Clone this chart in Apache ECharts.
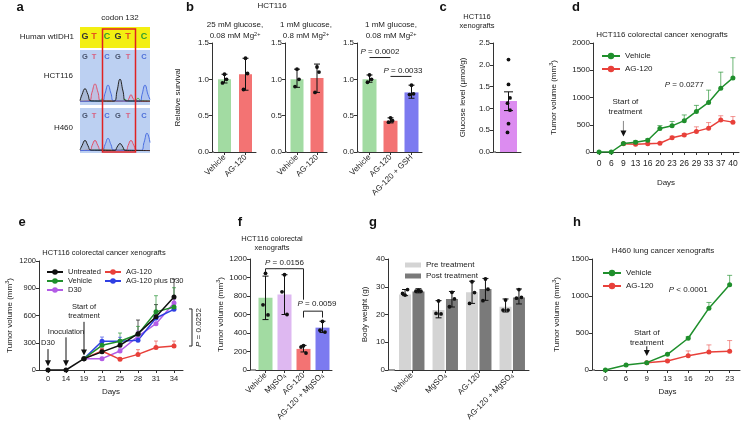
<!DOCTYPE html>
<html><head><meta charset="utf-8">
<script src="https://cdn.jsdelivr.net/npm/echarts@6/dist/echarts.min.js"></script>
<style>html,body{margin:0;padding:0;background:#fff}#c{width:744px;height:426px}</style>
</head><body><div id="c"></div>
<script>
// ================= DATA =================
// panel a: sequencing traces (x 0..70 across the read, y relative peak height)
const aSeq = ['G','T','C','G','T','C'];
const aHctBlack = [[0,0.05],[2,0.3],[5,0.55],[8,0.3],[11,0.04],[34,0.03],[37,0.45],[40,0.95],[43,0.45],[46,0.04],[70,0.03]];
const aHctRed   = [[0,0.02],[9,0.04],[12,0.4],[15,0.75],[18,0.4],[21,0.04],[47,0.03],[49,0.15],[51,0.3],[53,0.15],[56,0.03],[70,0.02]];
const aHctBlue  = [[0,0.02],[22,0.04],[25,0.35],[28,0.7],[31,0.35],[34,0.04],[60,0.03],[62,0.3],[65,0.7],[68,0.3],[70,0.1]];
const aHctGreen = [[0,0.02],[19,0.03],[22,0.12],[25,0.03],[42,0.03],[45,0.1],[48,0.03],[55,0.05],[58,0.15],[61,0.05],[70,0.03]];
const aH460Black = [[0,0.05],[2,0.25],[5,0.5],[8,0.25],[11,0.04],[35,0.03],[37,0.18],[40,0.35],[43,0.18],[45,0.03],[70,0.02]];
const aH460Red   = [[0,0.02],[10,0.04],[12,0.25],[15,0.5],[18,0.25],[21,0.04],[46,0.03],[48,0.25],[51,0.5],[54,0.25],[57,0.03],[70,0.02]];
const aH460Blue  = [[0,0.02],[22,0.04],[25,0.3],[28,0.6],[31,0.3],[34,0.04],[61,0.03],[64,0.4],[67,0.85],[70,0.4]];
const aH460Green = [[0,0.02],[20,0.05],[23,0.1],[26,0.04],[40,0.03],[43,0.08],[46,0.03],[70,0.02]];

// panel b
const b1Cats = ['Vehicle','AG-120'];
const b1Mean = [1.0, 1.07];
const b1Low  = [0.95, 0.85];
const b1High = [1.07, 1.29];
const b1Pts  = [[1.07,1.0,0.95],[1.29,1.08,0.86]];
const b2Cats = ['Vehicle','AG-120'];
const b2Mean = [1.0, 1.02];
const b2Low  = [0.89, 0.82];
const b2High = [1.14, 1.21];
const b2Pts  = [[1.14,1.0,0.9],[1.17,1.1,0.82]];
const b3Cats = ['Vehicle','AG-120','AG-120 + GSH'];
const b3Mean = [1.0, 0.43, 0.82];
const b3Low  = [0.96, 0.40, 0.74];
const b3High = [1.06, 0.47, 0.92];
const b3Pts  = [[1.06,1.0,0.96],[0.47,0.43,0.41],[0.92,0.80,0.79]];

// panel c
const cCats = [''];
const cMean = [1.17];
const cLow  = [0.95];
const cHigh = [1.38];
const cPts  = [[2.12,1.55,1.24,1.12,0.96,0.65,0.45]];

// panel d
const dDays = ['0','6','9','13','16','20','23','26','29','33','37','40'];
const dVehicle    = [0,0,155,180,215,430,480,575,745,910,1170,1360];
const dVehicleTop = [null,null,170,205,240,485,560,680,855,1135,1465,1730];
const dAG         = [null,null,150,140,152,160,260,310,378,438,585,548];
const dAGTop      = [null,null,160,155,165,175,290,340,462,540,665,650];

// panel e
const eDays = ['0','14','19','21','25','28','31','34'];
const eUntreated    = [0,0,125,200,272,400,585,805];
const eUntreatedTop = [null,null,null,230,300,550,720,1000];
const eVehicle      = [null,null,125,272,316,393,640,694];
const eVehicleTop   = [null,null,null,300,407,480,818,906];
const eD30          = [null,null,125,125,209,371,510,738];
const eD30Top       = [null,null,null,140,240,430,560,775];
const eAG           = [null,null,125,209,117,172,247,264];
const eAGTop        = [null,null,null,240,135,224,319,319];
const eAGD30        = [null,null,125,316,316,327,572,668];
const eAGD30Top     = [null,null,null,363,360,400,640,720];

// panel f
const fCats = ['Vehicle','MgSO4','AG-120','AG-120 + MgSO4'];
const fMean = [780, 815, 228, 458];
const fLow  = [545, 600, 195, 405];
const fHigh = [1015, 1030, 266, 527];
const fPts  = [[1045,705,595],[1030,845,600],[262,248,183],[525,430,410]];

// panel g
const gCats = ['Vehicle','MgSO4','AG-120','AG-120 + MgSO4'];
const gPre      = [27.2, 21.6, 28.0, 22.8];
const gPreLow   = [26.8, 18.8, 24.0, 20.9];
const gPreHigh  = [29.0, 25.0, 32.0, 25.6];
const gPrePts   = [[27.0,29.0,27.6],[24.9,20.2,20.4],[31.8,27.9,24.0],[25.2,21.6,21.6]];
const gPost     = [28.3, 25.6, 29.2, 26.1];
const gPostLow  = [27.8, 22.7, 25.1, 23.8];
const gPostHigh = [29.3, 28.3, 33.0, 29.2];
const gPostPts  = [[28.7,28.4,28.4],[28.0,25.6,22.8],[32.8,29.1,25.0],[29.0,26.2,25.9]];

// panel h
const hDays = ['0','6','9','13','16','20','23'];
const hVehicle    = [0,68,99,212,429,836,1152];
const hVehicleTop = [null,null,null,225,450,913,1279];
const hAG         = [null,null,99,122,194,244,253];
const hAGTop      = [null,null,null,135,258,339,398];

// ================= STYLE =================
const F = "'Liberation Sans', Arial, Helvetica, sans-serif";
const INK = '#222';
const FS = 8;
const GREEN_BAR='#a2dba2', RED_BAR='#f37373', BLUE_BAR='#7c7af0', VIOLET_BAR='#dc8cf0', LILAC_BAR='#deb8f1';
const PRE='#d4d4d4', POST='#7a7a7a';
const G_LINE='#1f8f2c', R_LINE='#e8403a', K_LINE='#111111', P_LINE='#b35ce6', B_LINE='#2f3fe3';
const RICH = {
  i:{fontStyle:'italic', fontSize:FS, fontFamily:F, color:INK},
  sup:{fontSize:5.5, fontFamily:F, color:INK, verticalAlign:'top', padding:[0,0,5,0]},
  sub:{fontSize:5.5, fontFamily:F, color:INK, verticalAlign:'bottom', padding:[4,0,0,0]}
};

const grids = [
  {left:80, top:78, width:70, height:25},    // 0 a1
  {left:80, top:130, width:70, height:22},   // 1 a2
  {left:214, top:43, width:42, height:109},  // 2 b1
  {left:287, top:43, width:40, height:109},  // 3 b2
  {left:359, top:43, width:63, height:109},  // 4 b3
  {left:496, top:43, width:25, height:109},  // 5 c
  {left:593, top:43, width:146, height:109}, // 6 d
  {left:39, top:261, width:144, height:109}, // 7 e
  {left:256, top:259, width:76, height:111}, // 8 f
  {left:395, top:259, width:134, height:111},// 9 g
  {left:595, top:259, width:145, height:111} // 10 h
];
const yOff = [0,0,2,2,2,3,0,0,6,7,3];

const axLine = {show:true, lineStyle:{color:'#333', width:1}};
const axTick = {show:true, length:3, lineStyle:{color:'#333', width:1}};
const plain = v => String(v);

function yAx(g, min, max, interval, name, gap, fmt, fs) {
  return {type:'value', gridIndex:g, min, max, interval, offset:yOff[g],
    axisLine:axLine, axisTick:axTick, splitLine:{show:false},
    axisLabel:{fontSize:fs||FS, color:INK, margin:3, fontFamily:F, formatter:fmt||plain},
    name:name||'', nameLocation:'middle', nameGap:gap||0, nameRotate:90,
    nameTextStyle:{fontSize:FS, color:INK, fontFamily:F, rich:RICH}};
}
const mapLbl = v => v.replace('MgSO4','MgSO{sub|4}');
function xCat(g, data, o) {
  o = o || {};
  return {type:'category', gridIndex:g, data, boundaryGap:true,
    axisLine:axLine, axisTick:{show:true, alignWithLabel:true, length:3, lineStyle:{color:'#333'}},
    axisLabel:{fontSize:o.fs||FS, color:INK, margin:o.margin||4, rotate:o.rotate||0, interval:0, fontFamily:F,
      formatter: v => mapLbl(v), rich:RICH},
    name:o.name||'', nameLocation:'middle', nameGap:o.gap||0,
    nameTextStyle:{fontSize:FS, color:INK, fontFamily:F}};
}
function hidAx(g, min, max) { return {type:'value', gridIndex:g, min, max, show:false}; }

function trace(g, data, color) {
  return {type:'line', xAxisIndex:g, yAxisIndex:g, data, smooth:0.5, symbol:'none', silent:true,
    lineStyle:{color, width:1}, areaStyle:{color, opacity:0.12}, z:3};
}
function bars(g, vals, colors, bw, extra) {
  return Object.assign({type:'bar', xAxisIndex:g, yAxisIndex:g, barWidth:bw, silent:true, z:2,
    data: vals.map((v,i)=>({value:v, itemStyle:{color:colors[i]}}))}, extra||{});
}
function errBars(g, low, high, cap, dx) {
  return {type:'custom', xAxisIndex:g, yAxisIndex:g, silent:true, z:6,
    data: low.map((l,i)=>[i,l,high[i]]),
    renderItem(p, api) {
      const a = api.coord([api.value(0), api.value(1)]);
      const b = api.coord([api.value(0), api.value(2)]);
      const x = a[0] + (dx||0), w = cap/2;
      const st = {stroke:'#111', lineWidth:1};
      return {type:'group', children:[
        {type:'line', shape:{x1:x,y1:a[1],x2:x,y2:b[1]}, style:st},
        {type:'line', shape:{x1:x-w,y1:b[1],x2:x+w,y2:b[1]}, style:st},
        {type:'line', shape:{x1:x-w,y1:a[1],x2:x+w,y2:a[1]}, style:st}]};
    }};
}
function dots(g, pts, jit, dx) {
  const data = [];
  pts.forEach((arr,i)=>arr.forEach((v,j)=>data.push([i,v,j])));
  return {type:'custom', xAxisIndex:g, yAxisIndex:g, silent:true, z:7, data,
    renderItem(p, api) {
      const c = api.coord([api.value(0), api.value(1)]);
      const j = api.value(2);
      return {type:'circle', shape:{cx:c[0]+(dx||0)+jit[j%jit.length], cy:c[1], r:1.9}, style:{fill:'#111'}};
    }};
}
function line(name, g, data, color, z) {
  return {type:'line', name, xAxisIndex:g, yAxisIndex:g, data:data.map(v=>v==null?'-':v),
    symbol:'circle', symbolSize:5, lineStyle:{width:1.5, color}, itemStyle:{color}, z:z||3, silent:true};
}
function upErr(g, mean, top, color, cap) {
  const data = [];
  mean.forEach((m,i)=>{ if (m!=null && top[i]!=null && top[i]>m) data.push([i,m,top[i]]); });
  return {type:'custom', xAxisIndex:g, yAxisIndex:g, silent:true, z:2, data,
    renderItem(p, api) {
      const a = api.coord([api.value(0), api.value(1)]);
      const b = api.coord([api.value(0), api.value(2)]);
      const st = {stroke:color, lineWidth:1};
      return {type:'group', children:[
        {type:'line', shape:{x1:a[0],y1:a[1],x2:b[0],y2:b[1]}, style:st},
        {type:'line', shape:{x1:b[0]-cap/2,y1:b[1],x2:b[0]+cap/2,y2:b[1]}, style:st}]};
    }};
}

const f1 = v => v.toFixed(1);
const legTxt = {fontSize:FS, fontFamily:F, color:INK};

const option = {
  animation:false,
  backgroundColor:'#fff',
  grid: grids.map(g=>Object.assign({containLabel:false}, g)),
  xAxis: [
    hidAx(0,0,70), hidAx(1,0,70),
    xCat(2,b1Cats,{rotate:45}), xCat(3,b2Cats,{rotate:45}), xCat(4,b3Cats,{rotate:45}),
    Object.assign(xCat(5,cCats), {axisTick:{show:false}}),
    xCat(6,dDays,{name:'Days', gap:27, fs:8.5, margin:7}),
    xCat(7,eDays,{name:'Days', gap:18, fs:7.5, margin:5}),
    xCat(8,fCats,{rotate:45}),
    xCat(9,gCats,{rotate:45}),
    xCat(10,hDays,{name:'Days', gap:18, fs:8, margin:5})
  ],
  yAxis: [
    hidAx(0,-0.05,1), hidAx(1,-0.05,1),
    yAx(2,0,1.5,0.5,'Relative survival',30,f1),
    yAx(3,0,1.5,0.5,'',0,f1),
    yAx(4,0,1.5,0.5,'',0,f1),
    yAx(5,0,2.5,0.5,'Glucose level (μmol/g)',26,f1),
    yAx(6,0,2000,500,'Tumor volume (mm{sup|3})',34),
    yAx(7,0,1200,300,'Tumor volume (mm{sup|3})',24,null,7.5),
    yAx(8,0,1200,200,'Tumor volume (mm{sup|3})',24),
    yAx(9,0,40,10,'Body weight (g)',19),
    yAx(10,0,1500,500,'Tumor volume (mm{sup|3})',30)
  ],
  legend: [
    {left:596, top:47, orient:'vertical', itemGap:5, itemWidth:18, itemHeight:8, selectedMode:false, data:['Vehicle','AG-120'], textStyle:legTxt},
    {left:41, top:263, orient:'vertical', itemGap:1, itemWidth:16, itemHeight:7, selectedMode:false, data:['Untreated','Vehicle','D30'], textStyle:Object.assign({}, legTxt, {fontSize:7.5})},
    {left:99, top:263, orient:'vertical', itemGap:1, itemWidth:16, itemHeight:7, selectedMode:false, data:['AG-120','AG-120 plus D30'], textStyle:Object.assign({}, legTxt, {fontSize:7.5})},
    {left:400, top:256, orient:'vertical', itemGap:3, itemWidth:16, itemHeight:5, icon:'rect', selectedMode:false, data:['Pre treatment','Post treatment'], textStyle:legTxt},
    {left:597, top:264, orient:'vertical', itemGap:5, itemWidth:18, itemHeight:8, selectedMode:false, data:['Vehicle','AG-120'], textStyle:legTxt}
  ],
  series: [
    // a
    trace(0,aHctGreen,'#4caf50'), trace(0,aHctRed,'#e0506a'), trace(0,aHctBlue,'#4a6ee0'), trace(0,aHctBlack,'#222'),
    trace(1,aH460Green,'#4caf50'), trace(1,aH460Red,'#e0506a'), trace(1,aH460Blue,'#4a6ee0'), trace(1,aH460Black,'#222'),
    // b
    bars(2,b1Mean,[GREEN_BAR,RED_BAR],13), errBars(2,b1Low,b1High,6), dots(2,b1Pts,[0,2,-2]),
    bars(3,b2Mean,[GREEN_BAR,RED_BAR],13), errBars(3,b2Low,b2High,6), dots(3,b2Pts,[0,2,-2]),
    bars(4,b3Mean,[GREEN_BAR,RED_BAR,BLUE_BAR],14), errBars(4,b3Low,b3High,6), dots(4,b3Pts,[0,2,-2]),
    // c
    bars(5,cMean,[VIOLET_BAR],17), errBars(5,cLow,cHigh,9), dots(5,cPts,[0,0,1.5,-1,1.5,0,-1]),
    // d
    upErr(6,dVehicle,dVehicleTop,'rgba(31,143,44,0.65)',5), upErr(6,dAG,dAGTop,'rgba(232,64,58,0.55)',5),
    line('AG-120',6,dAG,R_LINE,3), line('Vehicle',6,dVehicle,G_LINE,4),
    // e
    upErr(7,eUntreated,eUntreatedTop,'rgba(17,17,17,0.7)',4), upErr(7,eVehicle,eVehicleTop,'rgba(31,143,44,0.65)',4),
    upErr(7,eD30,eD30Top,'rgba(179,92,230,0.65)',4), upErr(7,eAG,eAGTop,'rgba(232,64,58,0.6)',4),
    upErr(7,eAGD30,eAGD30Top,'rgba(47,63,227,0.6)',4),
    line('D30',7,eD30,P_LINE,3), line('AG-120 plus D30',7,eAGD30,B_LINE,3), line('AG-120',7,eAG,R_LINE,3),
    line('Vehicle',7,eVehicle,G_LINE,4), line('Untreated',7,eUntreated,K_LINE,5),
    // f
    bars(8,fMean,[GREEN_BAR,LILAC_BAR,RED_BAR,BLUE_BAR],14), errBars(8,fLow,fHigh,6), dots(8,fPts,[0,-2.5,2.5]),
    // g
    {type:'bar', name:'Pre treatment', xAxisIndex:9, yAxisIndex:9, barWidth:12, barGap:'12%', data:gPre, itemStyle:{color:PRE}, silent:true},
    {type:'bar', name:'Post treatment', xAxisIndex:9, yAxisIndex:9, barWidth:12, barGap:'12%', data:gPost, itemStyle:{color:POST}, silent:true},
    errBars(9,gPreLow,gPreHigh,6,-6.7), dots(9,gPrePts,[0,2.5,-2.5],-6.7),
    errBars(9,gPostLow,gPostHigh,6,6.7), dots(9,gPostPts,[0,2.5,-2.5],6.7),
    // h
    upErr(10,hVehicle,hVehicleTop,'rgba(31,143,44,0.65)',5), upErr(10,hAG,hAGTop,'rgba(232,64,58,0.55)',5),
    line('AG-120',10,hAG,R_LINE,3), line('Vehicle',10,hVehicle,G_LINE,4)
  ]
};

const chart = echarts.init(document.getElementById('c'), null, {renderer:'canvas'});
chart.setOption(option);

function build() {
  const P = (g, x, y) => chart.convertToPixel({gridIndex:g}, [x, y]);
  const els = [];
  const txt = (x, y, text, o) => { o = o || {}; els.push({type:'text', x, y, z:20, silent:true, rotation:o.rot||0,
    style:{text, fill:o.color||INK, fontSize:o.size||FS, fontFamily:F, fontWeight:o.weight||'normal',
      align:o.align||'center', verticalAlign:o.va||'middle', rich:RICH, lineHeight:o.lh||10}}); };
  const ln = (x1,y1,x2,y2,color,w) => els.push({type:'line', z:20, silent:true, shape:{x1,y1,x2,y2}, style:{stroke:color||'#222', lineWidth:w||1}});
  const rect = (x,y,w,h,fill,stroke,z) => els.push({type:'rect', z:z==null?-1:z, silent:true, shape:{x,y,width:w,height:h}, style:{fill:fill||'none', stroke:stroke||null, lineWidth:1.5}});
  const arrow = (x, y1, y2, shaft, hw, hh) => {
    ln(x, y1, x, y2-hh+1, shaft, 1);
    els.push({type:'polygon', z:20, silent:true, shape:{points:[[x-hw,y2-hh],[x+hw,y2-hh],[x,y2]]}, style:{fill:'#111'}});
  };
  // panel letters
  [['a',20,7],['b',190,7],['c',443,7],['d',576,7],['e',22,222],['f',240,222],['g',373,222],['h',577,222]]
    .forEach(([t,x,y])=>txt(x,y,t,{size:13,weight:'bold',color:'#111'}));

  // ---- a ----
  txt(120,18,'codon 132');
  txt(74,37,'Human wtIDH1',{align:'right'});
  txt(73,76,'HCT116',{align:'right'});
  txt(73,128,'H460',{align:'right'});
  rect(80,27,70,21,'#f3ef12');
  rect(80,50,70,55,'#bcd0f2');
  rect(80,108,70,45,'#bcd0f2');
  const seqX = [85,94,107,118,128,144];
  const yCol = {G:'#333', T:'#e3541e', C:'#2e9d2e'};
  const bCol = {G:'#4a5570', T:'#d8607f', C:'#4d6fd8'};
  aSeq.forEach((s,i)=>{
    txt(seqX[i],37,s,{size:9,weight:'bold',color:yCol[s]});
    txt(seqX[i],57,s,{size:7.5,weight:'bold',color:bCol[s]});
    txt(seqX[i],116,s,{size:7.5,weight:'bold',color:bCol[s]});
  });
  rect(102.5,29,33,123,'none','#e02222',20);

  // ---- b ----
  txt(272,6,'HCT116');
  txt(235,25,'25 mM glucose,'); txt(235,36,'0.08 mM Mg{sup|2+}');
  txt(306,25,'1 mM glucose,');  txt(306,36,'0.8 mM Mg{sup|2+}');
  txt(391,25,'1 mM glucose,');  txt(391,36,'0.08 mM Mg{sup|2+}');
  let p1 = P(4,0,1.30), p2 = P(4,1,1.30);
  ln(p1[0],p1[1],p2[0],p2[1]); txt((p1[0]+p2[0])/2,p1[1]-6,'{i|P} = 0.0002');
  p1 = P(4,1,1.04); p2 = P(4,2,1.04);
  ln(p1[0],p1[1],p2[0],p2[1]); txt((p1[0]+p2[0])/2+2,p1[1]-6,'{i|P} = 0.0033');

  // ---- c ----
  txt(477,17,'HCT116',{size:7.5}); txt(477,26,'xenografts',{size:7.5});

  // ---- d ----
  txt(662,35,'HCT116 colorectal cancer xenografts');
  let q = P(6,6.65,1230); txt(q[0],q[1],'{i|P} = 0.0277');
  q = P(6,2,830); txt(q[0]+2,q[1]-5,'Start of'); txt(q[0]+2,q[1]+5,'treatment');
  let a1 = P(6,2,570), a2 = P(6,2,285); arrow(a1[0],a1[1],a2[1],'#888',3,6);

  // ---- e ----
  txt(104,253,'HCT116 colorectal cancer xenografts',{size:7.5});
  q = P(7,0,300); txt(q[0],q[1],'D30',{size:7.5});
  a1 = P(7,0,230); a2 = P(7,0,40); arrow(a1[0],a1[1],a2[1],'#111',3,6);
  q = P(7,1,418); txt(q[0],q[1],'Inoculation',{size:7.5});
  a1 = P(7,1,360); a2 = P(7,1,40); arrow(a1[0],a1[1],a2[1],'#111',3,6);
  q = P(7,2,640); txt(q[0],q[1]-5,'Start of',{size:7.5}); txt(q[0],q[1]+4,'treatment',{size:7.5});
  a1 = P(7,2,530); a2 = P(7,2,160); arrow(a1[0],a1[1],a2[1],'#111',3,6);
  a1 = P(7,7.55,672); a2 = P(7,7.55,264);
  ln(a1[0],a1[1],a1[0],a2[1]); ln(a1[0]-3,a1[1],a1[0],a1[1]); ln(a2[0]-3,a2[1],a2[0],a2[1]);
  txt(a1[0]+7,(a1[1]+a2[1])/2,'{i|P} = 0.0252',{rot:Math.PI/2});

  // ---- f ----
  txt(272,239,'HCT116 colorectal',{size:7.5}); txt(272,248,'xenografts',{size:7.5});
  p1 = P(8,0,1095); p2 = P(8,2,1095);
  ln(p1[0],p1[1],p2[0],p2[1]); ln(p1[0],p1[1],p1[0],P(8,0,1055)[1]); ln(p2[0],p2[1],p2[0],P(8,2,760)[1]);
  txt((p1[0]+p2[0])/2,p1[1]-6,'{i|P} = 0.0156');
  p1 = P(8,2,636); p2 = P(8,3,636);
  ln(p1[0],p1[1],p2[0],p2[1]); ln(p1[0],p1[1],p1[0],P(8,2,567)[1]); ln(p2[0],p2[1],p2[0],P(8,3,567)[1]);
  txt((p1[0]+p2[0])/2+4,p1[1]-7,'{i|P} = 0.0059');

  // ---- h ----
  txt(663,251,'H460 lung cancer xenografts');
  q = P(10,4.2,1080); txt(q[0],q[1],'{i|P} < 0.0001');
  q = P(10,2,440); txt(q[0],q[1]-5,'Start of'); txt(q[0],q[1]+5,'treatment');
  a1 = P(10,2,320); a2 = P(10,2,190); arrow(a1[0],a1[1],a2[1],'#111',3,6);

  // connect x-axis lines to offset y-axes
  grids.forEach((g,i)=>{ if (yOff[i]>0) ln(g.left-yOff[i], g.top+g.height, g.left, g.top+g.height, '#333', 1); });
  return els;
}
chart.setOption({graphic:{elements:build()}});
</script>
</body></html>
